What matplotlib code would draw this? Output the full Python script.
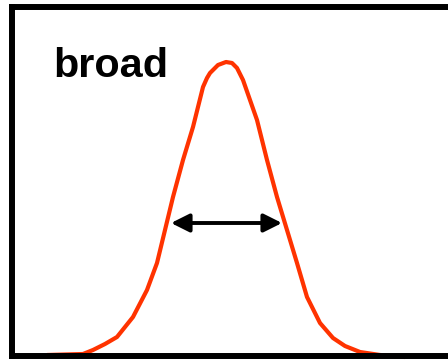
import matplotlib
matplotlib.use("Agg")
import matplotlib.pyplot as plt

# Curve (position, intensity)
position = [35, 71, 81, 93, 105, 121, 135, 145, 153, 161, 171, 181, 191, 195, 198, 206,
            214, 220, 225, 231, 238, 245, 255, 265, 275, 285, 295, 308, 321, 333, 348, 368, 393]
intensity = [1, 2, 6, 12, 19, 39, 66, 93, 126, 159, 196, 229, 269, 278, 283, 291,
             294, 293, 288, 276, 256, 236, 196, 159, 126, 93, 59, 33, 18, 10, 4, 1, -1]

# Width marker at half maximum
fwhm_left = 159
fwhm_right = 270
fwhm_level = 133

label = "broad"

fig = plt.figure(figsize=(4.48, 3.61), dpi=100)
ax = fig.add_axes([12/448, 5/361, 460/448, (356-7)/361])
ax.set_xlim(0, 460)
ax.set_ylim(0, 349)
ax.set_xticks([])
ax.set_yticks([])
for s in ax.spines.values():
    s.set_linewidth(4.3)
    s.set_color("black")

ax.plot(position, intensity, color="#FF3300", lw=3.0, solid_joinstyle="round",
        solid_capstyle="butt", clip_on=False, zorder=2)

ax.annotate("", xy=(fwhm_right, fwhm_level), xytext=(fwhm_left, fwhm_level),
            arrowprops=dict(arrowstyle="<|-|>,head_length=1.1,head_width=0.55",
                            mutation_scale=10, color="black", lw=2.8,
                            shrinkA=0, shrinkB=0), zorder=3)

ax.text(41, 279, label, fontsize=29.8, fontweight="bold", family="Liberation Sans",
        ha="left", va="baseline", color="black")

fig.savefig("out.png", dpi=100)
